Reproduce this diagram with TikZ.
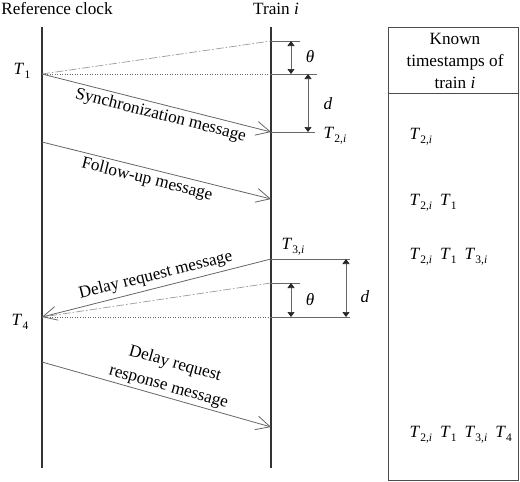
\documentclass[tikz,border=0pt]{standalone}
\usepackage{fontspec}
\setmainfont{Liberation Serif}
\usetikzlibrary{arrows.meta,positioning}

\newcommand{\tstamp}[1]{\textit{T}\kern0.2pt\raisebox{-0.22em}{\fontsize{11.5}{11.5}\selectfont #1}}

\begin{document}
\begin{tikzpicture}[x=1pt, y=-1pt, font=\fontsize{17.2}{22}\selectfont,
  timeline/.style={draw=black!80, line width=1.8pt},
  msg/.style={draw=black!60, line width=0.8pt, -{Straight Barb[length=14pt,width=14pt]}},
  tick/.style={draw=black!60, line width=0.7pt},
  dim/.style={draw=black!60, line width=0.7pt, {Triangle[length=5pt,width=7pt,color=black!85]}-{Triangle[length=5pt,width=7pt,color=black!85]}},
  dashdot/.style={draw=black!40, line width=0.7pt, dash pattern=on 8pt off 2pt on 1.5pt off 2pt},
  dots/.style={draw=black!60, line width=0.7pt, dash pattern=on 1pt off 1.5pt},
  msgtext/.style={sloped, align=center}]
\useasboundingbox (0,0) rectangle (520,482);

% Set the two time lines (1pt = 1 pixel, y downwards)
\def\xref{42}
\def\xtrain{271}

\coordinate (ref top) at (\xref,27);
\coordinate (ref bot) at (\xref,468);
\coordinate (train top) at (\xtrain,27);
\coordinate (train bot) at (\xtrain,468);
\draw[timeline] (ref top) -- (ref bot);
\draw[timeline] (train top) -- (train bot);
\node (refclock) at (57,9) {Reference clock};
\node (train) at (276,9) {Train \textit{i}};

% Event points
\coordinate (t1) at (\xref,74);
\coordinate (t1r) at (\xtrain,74);
\coordinate (th1) at (\xtrain,41);
\coordinate (t2) at (\xtrain,132);
\coordinate (fu1) at (\xref,142);
\coordinate (fu2) at (\xtrain,199);
\coordinate (t3) at (\xtrain,259);
\coordinate (th2) at (\xtrain,283);
\coordinate (t4) at (\xref,317);
\coordinate (t4r) at (\xtrain,317);
\coordinate (rs1) at (\xref,362);
\coordinate (rs2) at (\xtrain,427);

% Synchronization and follow-up
\draw[dashdot] (t1) -- (th1);
\draw[dots] (t1) -- (t1r);
\draw[msg] (t1) -- node[msgtext, below, inner sep=3pt, pos=0.53] (syncmsg) {Synchronization message} (t2);
\draw[msg] (fu1) -- node[msgtext, below, inner sep=3pt, pos=0.47] (fumsg) {Follow-up message} (fu2);
\draw[tick] (th1) -- ([xshift=29pt]th1);
\draw[tick] (t1r) -- ([xshift=46pt]t1r);
\draw[tick] (t2) -- ([xshift=44pt]t2);
\draw[dim] ([xshift=20pt]th1) -- ([xshift=20pt]t1r);
\draw[dim] ([xshift=37pt]t1r) -- ([xshift=37pt]t2);
\node (t1 label) at (22,71) {\tstamp{1}};
\node (t2 label) at (335,136) {\tstamp{2,\textit{i}}};
\node (theta1) at (310,57) {\textit{θ}};
\node (d1) at (328,104) {\textit{d}};

% Delay request and response
\draw[dashdot] (th2) -- (t4);
\draw[dots] (t4r) -- (t4);
\draw[msg] (t3) -- node[msgtext, above, inner sep=4pt, pos=0.49] (reqmsg) {Delay request message} (t4);
\draw[msg] (rs1) -- node[msgtext, above, inner sep=2pt, pos=0.54, font=\fontsize{17.2}{24}\selectfont] (respmsg) {Delay request\\response message} (rs2);
\draw[tick] (t3) -- ([xshift=79pt]t3);
\draw[tick] (th2) -- ([xshift=29pt]th2);
\draw[tick] (t4r) -- ([xshift=79pt]t4r);
\draw[dim] ([xshift=20pt]th2) -- ([xshift=20pt]t4r);
\draw[dim] ([xshift=75pt]t3) -- ([xshift=75pt]t4r);
\node (t3 label) at (293,247) {\tstamp{3,\textit{i}}};
\node (t4 label) at (20,322) {\tstamp{4}};
\node (theta2) at (310,300) {\textit{θ}};
\node (d2) at (365,297) {\textit{d}};

% Known timestamps
\draw[black!70, line width=0.8pt] (388,27) rectangle (518,480);
\draw[black!70, line width=0.8pt] (388,93) -- (518,93);
\node[align=center] (known) at (455,61) {Known\\timestamps of\\train \textit{i}};
\node[anchor=west] (row1) at (406,137) {\tstamp{2,\textit{i}}};
\node[anchor=west] (row2) at (406,203) {\tstamp{2,\textit{i}}\hspace{8pt}\tstamp{1}};
\node[anchor=west] (row3) at (406,257) {\tstamp{2,\textit{i}}\hspace{8pt}\tstamp{1}\hspace{8pt}\tstamp{3,\textit{i}}};
\node[anchor=west] (row4) at (406,435) {\tstamp{2,\textit{i}}\hspace{8pt}\tstamp{1}\hspace{8pt}\tstamp{3,\textit{i}}\hspace{8pt}\tstamp{4}};
\end{tikzpicture}
\end{document}
